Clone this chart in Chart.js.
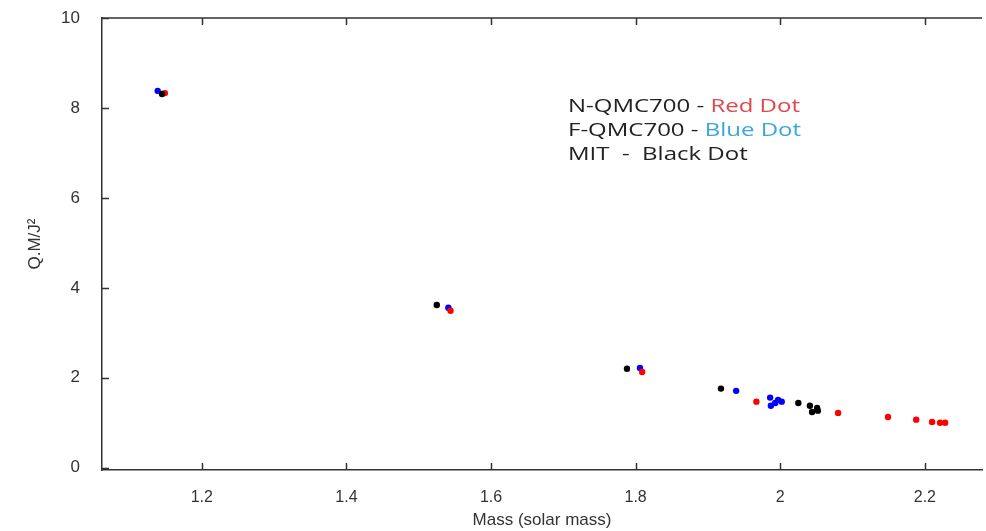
<!DOCTYPE html>
<html>
<head>
<meta charset="utf-8">
<script src="https://cdn.jsdelivr.net/npm/chart.js@4.4.0/dist/chart.umd.min.js"></script>
<style>
  html, body { margin: 0; padding: 0; background: #fff; }
  #wrap { width: 986px; height: 531px; }
</style>
</head>
<body>
<div id="wrap"><canvas id="myChart" width="986" height="531"></canvas></div>
<script>
'use strict';

// data
const mitMass = [1.145, 1.525, 1.788, 1.918, 2.025, 2.041, 2.051, 2.044, 2.052];
const mitQ    = [8.31, 3.62, 2.20, 1.76, 1.44, 1.38, 1.33, 1.24, 1.27];

const nqmcMass = [1.149, 1.544, 1.809, 1.967, 2.080, 2.149, 2.188, 2.210, 2.221, 2.228];
const nqmcQ    = [8.33, 3.49, 2.13, 1.47, 1.22, 1.13, 1.07, 1.02, 1.00, 1.00];

const fqmcMass = [1.139, 1.541, 1.806, 1.939, 1.986, 1.987, 1.997, 2.002, 1.993];
const fqmcQ    = [8.38, 3.56, 2.22, 1.71, 1.56, 1.38, 1.51, 1.47, 1.44];

const xTicks = [1.2, 1.4, 1.6, 1.8, 2.0, 2.2];
const yTicks = [0, 2, 4, 6, 8, 10];

function toPoints(xs, ys){
  const pts = [];
  for(let i=0; i<xs.length; i++){
    pts.push({x: xs[i], y: ys[i]});
  }
  return pts;
}

// inward ticks + top line + text legend
const frame = {
  id: 'frame',
  afterDraw(chart){
    const ctx = chart.ctx;
    const a = chart.chartArea;
    const sx = chart.scales.x;
    const sy = chart.scales.y;
    ctx.save();
    ctx.strokeStyle = '#333';
    ctx.lineWidth = 1.5;
    ctx.beginPath();
    ctx.moveTo(a.left, a.top);
    ctx.lineTo(a.right, a.top);
    for(let i=0; i<xTicks.length; i++){
      const x = Math.round(sx.getPixelForValue(xTicks[i])) + 0.5;
      ctx.moveTo(x, a.bottom);
      ctx.lineTo(x, a.bottom - 7);
      ctx.moveTo(x, a.top);
      ctx.lineTo(x, a.top + 7);
    }
    for(let i=0; i<yTicks.length; i++){
      const y = Math.round(sy.getPixelForValue(yTicks[i])) + 0.5;
      ctx.moveTo(a.left, y);
      ctx.lineTo(a.left + 7, y);
    }
    ctx.stroke();

    // the legend text in the picture is drawn wide, so stretch it
    ctx.font = '19px "Open Sans", "Noto Sans", sans-serif';
    ctx.textBaseline = 'middle';
    const rows = [
      [['N-QMC700 - ', '#222'], ['Red Dot', '#e0474c']],
      [['F-QMC700 - ', '#222'], ['Blue Dot', '#3aa6dd']],
      [['MIT  -  Black Dot', '#222']]
    ];
    const ys = [107, 131, 155];
    const k = 232 / ctx.measureText('N-QMC700 - Red Dot').width;
    ctx.translate(568, 0);
    ctx.scale(k, 1);
    for(let r=0; r<rows.length; r++){
      let x = 0;
      for(const [txt, col] of rows[r]){
        ctx.fillStyle = col;
        ctx.fillText(txt, x, ys[r]);
        x += ctx.measureText(txt).width;
      }
    }
    ctx.restore();
  }
};

const ctx = document.getElementById('myChart').getContext('2d');
new Chart(ctx, {
  type: 'scatter',
  data: {
    datasets: [{
      label: 'MIT',
      data: toPoints(mitMass, mitQ),
      backgroundColor: '#000000',
      borderWidth: 0,
      pointRadius: 3.2
    },{
      label: 'N-QMC700',
      data: toPoints(nqmcMass, nqmcQ),
      backgroundColor: '#ff0000',
      borderWidth: 0,
      pointRadius: 3.2
    },{
      label: 'F-QMC700',
      data: toPoints(fqmcMass, fqmcQ),
      backgroundColor: '#0000ff',
      borderWidth: 0,
      pointRadius: 3.2
    }]
  },
  options: {
    responsive: false,
    animation: false,
    layout: { padding: { top: 18, right: 0, left: 0, bottom: 0 } },
    plugins: {
      legend: { display: false },
      tooltip: { enabled: false }
    },
    scales: {
      x: {
        type: 'linear',
        min: 1.062,
        max: 2.279,
        afterBuildTicks: s => { s.ticks = xTicks.map(v => ({value: v})); },
        afterFit: s => { s.height = 61; s.paddingLeft = 0; s.paddingRight = 0; },
        grid: { display: false, drawTicks: false },
        border: { display: true, color: '#333', width: 1.5 },
        ticks: {
          padding: 18,
          color: '#333',
          font: { family: '"Liberation Sans Narrow", "Liberation Sans", sans-serif', size: 16 },
          callback: v => String(+Number(v).toFixed(1))
        },
        title: {
          display: true,
          text: 'Mass (solar mass)',
          color: '#333',
          font: { family: '"Liberation Sans", sans-serif', size: 17 },
          padding: { top: 2, bottom: 0 }
        }
      },
      y: {
        type: 'linear',
        min: -0.05,
        max: 10,
        afterBuildTicks: s => { s.ticks = yTicks.map(v => ({value: v})); },
        afterFit: s => { s.width = 102; s.paddingTop = 0; s.paddingBottom = 0; },
        grid: { display: false, drawTicks: false },
        border: { display: true, color: '#333', width: 1.5 },
        ticks: {
          padding: 22,
          color: '#333',
          font: { family: '"Liberation Sans", sans-serif', size: 17 }
        },
        title: {
          display: true,
          text: 'Q.M/J\u00b2',
          color: '#333',
          font: { family: '"Liberation Sans Narrow", "Liberation Sans", sans-serif', size: 17 },
          padding: { top: 25, bottom: 0 }
        }
      }
    }
  },
  plugins: [frame]
});
</script>
</body>
</html>
